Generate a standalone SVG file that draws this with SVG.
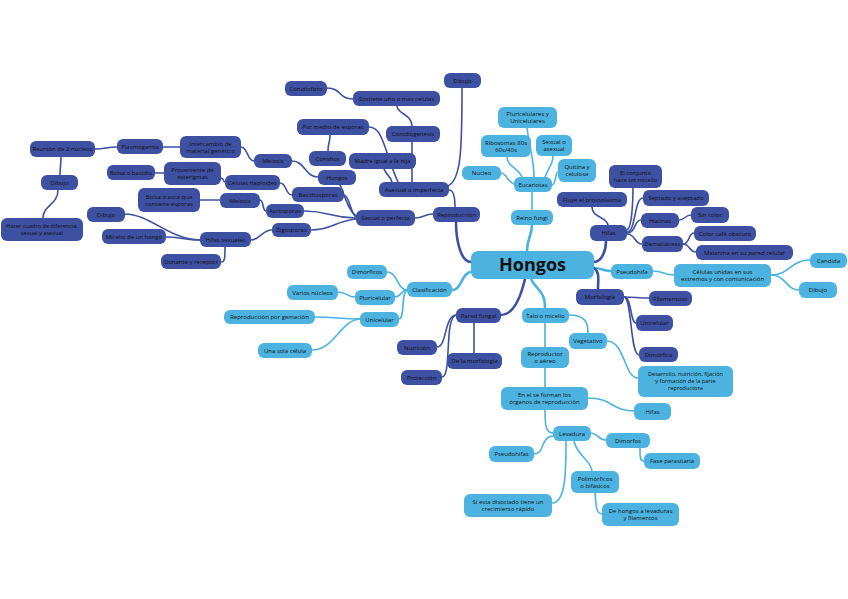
<svg xmlns="http://www.w3.org/2000/svg" width="848" height="599" viewBox="0 0 848 599">
<style>
.d rect{fill:#3d50a2}
.l rect{fill:#4cb3e0}
text{font-family:"Open Sans","Liberation Sans",sans-serif;font-size:6px;text-anchor:middle;fill:#111}
.s text{font-size:5.6px}
#connectors path{fill:none;stroke-linecap:round;stroke-width:1.6}
#connectors .cd{stroke:#3d50a2}
#connectors .cl{stroke:#4cb3e0}
#connectors .m{stroke-width:2.6}
</style>
<rect width="848" height="599" fill="#fff"/>
<g id="connectors">
<path class="cl m" d="M527 251 C527 238 532 236 532 225"/>
<path class="cl" d="M532 210 L532 192"/>
<path class="cl" d="M515 184 C508 184 507 173 501 173"/>
<path class="cl" d="M522 177 C518 168 507 166 507 157"/>
<path class="cl" d="M527 128 C530 150 534 160 534 177"/>
<path class="cl" d="M545 177 C548 168 553 165 553 156"/>
<path class="cl" d="M552 185 C556 185 555 172 558 172"/>
<path class="cl m" d="M471 272 C462 272 462 290 452 290"/>
<path class="cl" d="M407 290 C397 290 398 272 387 272"/>
<path class="cl" d="M407 290 C400 290 402 297 395 297"/>
<path class="cl" d="M407 290 C401 292 405 319 399 319"/>
<path class="cl" d="M355 297 C347 297 347 292 338 292"/>
<path class="cl" d="M360 319 C340 319 335 317 315 317"/>
<path class="cl" d="M360 319 C340 320 335 350 312 350"/>
<path class="cl m" d="M531 279 C536 290 545 290 545 308"/>
<path class="cl" d="M569 315 C585 315 588 322 588 333"/>
<path class="cl" d="M545 323 L545 347"/>
<path class="cl" d="M607 341 C625 341 624 378 638 378"/>
<path class="cl" d="M545 368 L545 387"/>
<path class="cl" d="M588 398 C612 398 612 411 634 411"/>
<path class="cl" d="M545 410 C545 426 546 433 553 433"/>
<path class="cl" d="M553 436 C540 437 545 454 534 454"/>
<path class="cl" d="M566 441 C566 470 566 503 552 503"/>
<path class="cl" d="M574 441 C578 458 590 458 592 471"/>
<path class="cl" d="M591 433 C598 433 598 440 606 440"/>
<path class="cl" d="M640 448 C640 458 640 461 644 461"/>
<path class="cl" d="M595 493 C596 505 596 514 602 514"/>
<path class="cl m" d="M594 268 C602 268 603 271 611 271"/>
<path class="cl" d="M653 271 C663 271 664 275 674 275"/>
<path class="cl" d="M771 275 C790 275 790 260 810 260"/>
<path class="cl" d="M771 275 C786 275 786 290 799 290"/>
<path class="cd m" d="M471 262 C460 262 456 238 456 222"/>
<path class="cd" d="M433 214 C424 214 424 218 415 218"/>
<path class="cd" d="M455 207 C455 197 453 190 449 190"/>
<path class="cd" d="M462 88 C462 150 461 180 448 186"/>
<path class="cd" d="M412 182 L412 142"/>
<path class="cd" d="M412 126 C412 114 397 114 397 106"/>
<path class="cd" d="M353 99 C338 99 342 88 327 88"/>
<path class="cd" d="M392 182 C390 175 386 175 384 169"/>
<path class="cd" d="M369 127 C383 127 384 150 398 182"/>
<path class="cd" d="M330 135 C330 143 328 143 328 151"/>
<path class="cd" d="M356 216 C348 210 345 196 340 185"/>
<path class="cd" d="M356 217 C350 213 350 196 344 195"/>
<path class="cd" d="M356 218 C330 218 330 211 304 211"/>
<path class="cd" d="M356 219 C335 221 332 230 311 230"/>
<path class="cd" d="M318 177 C305 177 305 161 292 161"/>
<path class="cd" d="M254 161 C247 161 248 147 241 147"/>
<path class="cd" d="M180 147 L163 147"/>
<path class="cd" d="M117 147 C106 147 106 149 95 149"/>
<path class="cd" d="M61 157 C61 165 60 168 60 175"/>
<path class="cd" d="M58 190 C58 205 43 205 43 218"/>
<path class="cd" d="M292 195 C285 195 287 183 280 183"/>
<path class="cd" d="M225 182 C223 182 224 178 221 178"/>
<path class="cd" d="M164 173 L155 173"/>
<path class="cd" d="M266 211 C262 211 264 200 260 200"/>
<path class="cd" d="M220 200 L200 200"/>
<path class="cd" d="M272 230 C262 230 260 240 251 240"/>
<path class="cd" d="M200 240 C170 240 150 214 125 214"/>
<path class="cd" d="M200 240 C185 240 180 237 166 237"/>
<path class="cd" d="M225 247 C225 258 225 262 221 262"/>
<path class="cd m" d="M525 279 C520 300 512 315 501 315"/>
<path class="cd" d="M456 315 C444 316 447 347 437 347"/>
<path class="cd" d="M456 315 C444 318 452 377 442 377"/>
<path class="cd" d="M474 323 L474 353"/>
<path class="cd m" d="M594 262 C602 262 606 250 606 241"/>
<path class="cd m" d="M594 268 C600 272 598 280 598 289"/>
<path class="cd" d="M592 207 C592 218 606 216 608 225"/>
<path class="cd" d="M627 230 C632 228 633 200 633 188"/>
<path class="cd" d="M627 232 C636 232 634 198 643 198"/>
<path class="cd" d="M627 233 C636 233 634 220 641 220"/>
<path class="cd" d="M627 234 C636 234 634 244 642 244"/>
<path class="cd" d="M679 220 C685 220 685 215 691 215"/>
<path class="cd" d="M683 244 C690 244 688 233 694 233"/>
<path class="cd" d="M683 244 C690 244 689 252 696 252"/>
<path class="cd" d="M624 297 C636 297 637 298 649 298"/>
<path class="cd" d="M624 297 C632 297 630 323 636 323"/>
<path class="cd" d="M624 297 C632 297 630 355 639 355"/>
</g>
<g id="n-hongos" class="l"><rect x="471" y="251" width="123" height="28" rx="7"/><text x="532.5" y="271" style="font-size:18px;font-weight:bold">Hongos</text></g>
<g id="n-reino" class="l"><rect x="511" y="210" width="42" height="15" rx="6"/><text x="532" y="219.7">Reino fungi</text></g>
<g id="n-eucariotas" class="l"><rect x="514" y="177" width="38" height="15" rx="6"/><text x="533" y="186.7">Eucariotas</text></g>
<g id="n-nucleo" class="l"><rect x="462" y="166" width="39" height="14" rx="6"/><text x="481.5" y="175.2">Nucleo</text></g>
<g id="n-ribosomas" class="l"><rect x="481" y="135" width="50" height="22" rx="6"/><text x="506" y="144.7">Ribosomas 80s</text><text x="506" y="151.7">60s/40s</text></g>
<g id="n-sexasex" class="l"><rect x="536" y="135" width="36" height="21" rx="6"/><text x="554" y="144.2">Sexual o</text><text x="554" y="151.2">asexual</text></g>
<g id="n-pluri" class="l"><rect x="498" y="107" width="59" height="21" rx="6"/><text x="527.5" y="116.2">Pluricelulares y</text><text x="527.5" y="123.2">Unicelulares</text></g>
<g id="n-quitina" class="l"><rect x="558" y="159" width="38" height="23" rx="6"/><text x="577" y="169.2">Quitina y</text><text x="577" y="176.2">celulosa</text></g>
<g id="n-dibujo-top" class="d"><rect x="444" y="73" width="37" height="15" rx="6"/><text x="462.5" y="82.7">Dibujo</text></g>
<g id="n-reproduccion" class="d"><rect x="433" y="207" width="47" height="15" rx="6"/><text x="456.5" y="216.7">Reproducción</text></g>
<g id="n-asexual" class="d"><rect x="379" y="182" width="70" height="15" rx="6"/><text x="414" y="191.7">Asexual o imperfecta</text></g>
<g id="n-sexual" class="d"><rect x="356" y="210" width="59" height="16" rx="6"/><text x="385.5" y="220.2">Sexual o perfecta</text></g>
<g id="n-conidiogenesis" class="d"><rect x="386" y="126" width="54" height="16" rx="6"/><text x="413" y="136.2">Conidiogenesis</text></g>
<g id="n-sostiene" class="d"><rect x="353" y="91" width="87" height="15" rx="6"/><text x="396.5" y="100.7">Sostiene uno o mas celulas</text></g>
<g id="n-conidioforo" class="d"><rect x="285" y="81" width="42" height="15" rx="6"/><text x="306" y="90.7">Conidioforo</text></g>
<g id="n-pormedio" class="d"><rect x="297" y="119" width="72" height="16" rx="6"/><text x="333" y="129.2">Por medio de esporas</text></g>
<g id="n-conidios" class="d"><rect x="309" y="151" width="37" height="15" rx="6"/><text x="327.5" y="160.7">Conidios</text></g>
<g id="n-madre" class="d"><rect x="349" y="153" width="67" height="16" rx="6"/><text x="382.5" y="163.2">Madre igual a la hija</text></g>
<g id="n-hongos2" class="d"><rect x="318" y="170" width="38" height="15" rx="6"/><text x="337" y="179.7">Hongos</text></g>
<g id="n-meiosis1" class="d"><rect x="254" y="154" width="38" height="14" rx="6"/><text x="273" y="163.2">Meiosis</text></g>
<g id="n-intercambio" class="d"><rect x="180" y="136" width="61" height="22" rx="6"/><text x="210.5" y="145.7">Intercambio de</text><text x="210.5" y="152.7">material genético</text></g>
<g id="n-plasmogamia" class="d"><rect x="117" y="139" width="46" height="15" rx="6"/><text x="140" y="148.7">Plasmogamia</text></g>
<g id="n-reunion" class="d"><rect x="30" y="141" width="65" height="16" rx="6"/><text x="62.5" y="151.2">Reunión de 2 núcleos</text></g>
<g id="n-dibujo-left" class="d"><rect x="41" y="175" width="37" height="15" rx="6"/><text x="59.5" y="184.7">Dibujo</text></g>
<g id="n-hacer" class="d s"><rect x="1" y="218" width="82" height="23" rx="6"/><text x="42" y="228.2">Hacer cuadro de diferencia,</text><text x="42" y="235.2">sexual y asexual</text></g>
<g id="n-basidio" class="d"><rect x="107" y="165" width="48" height="15" rx="6"/><text x="131" y="174.7">Bolsa o basidio</text></g>
<g id="n-proveniente" class="d"><rect x="164" y="162" width="57" height="23" rx="6"/><text x="192.5" y="172.2">Proveniente de</text><text x="192.5" y="179.2">esterigmas</text></g>
<g id="n-celulas-hap" class="d"><rect x="225" y="175" width="55" height="15" rx="6"/><text x="252.5" y="184.7">Células haploides</text></g>
<g id="n-basidiosporas" class="d"><rect x="292" y="187" width="52" height="15" rx="6"/><text x="318" y="196.7">Basidiosporas</text></g>
<g id="n-meiosis2" class="d"><rect x="220" y="193" width="40" height="15" rx="6"/><text x="240" y="202.7">Meiosis</text></g>
<g id="n-asca" class="d"><rect x="138" y="188" width="62" height="24" rx="6"/><text x="169" y="198.7">Bolsa o asca que</text><text x="169" y="205.7">contiene esporas</text></g>
<g id="n-ascosporas" class="d"><rect x="266" y="204" width="38" height="14" rx="6"/><text x="285" y="213.2">Ascosporas</text></g>
<g id="n-zigosporas" class="d"><rect x="272" y="223" width="39" height="14" rx="6"/><text x="291.5" y="232.2">Zigosporas</text></g>
<g id="n-hifas-sex" class="d"><rect x="200" y="232" width="51" height="15" rx="6"/><text x="225.5" y="241.7">Hifas sexuales</text></g>
<g id="n-dibujo-mid" class="d"><rect x="87" y="207" width="38" height="15" rx="6"/><text x="106" y="216.7">Dibujo</text></g>
<g id="n-micelio-hongo" class="d"><rect x="102" y="229" width="64" height="15" rx="6"/><text x="134" y="238.7">Micelio de un hongo</text></g>
<g id="n-donante" class="d"><rect x="161" y="254" width="60" height="15" rx="6"/><text x="191" y="263.7">Donante y receptor</text></g>
<g id="n-clasificacion" class="l"><rect x="407" y="282" width="45" height="15" rx="6"/><text x="429.5" y="291.7">Clasificación</text></g>
<g id="n-dimorficos" class="l"><rect x="347" y="265" width="40" height="14" rx="6"/><text x="367" y="274.2">Dimorficos</text></g>
<g id="n-pluricelular" class="l"><rect x="355" y="290" width="40" height="15" rx="6"/><text x="375" y="299.7">Pluricelular</text></g>
<g id="n-varios" class="l"><rect x="287" y="285" width="51" height="15" rx="6"/><text x="312.5" y="294.7">Varios núcleos</text></g>
<g id="n-unicelular-l" class="l"><rect x="360" y="312" width="39" height="15" rx="6"/><text x="379.5" y="321.7">Unicelular</text></g>
<g id="n-gemacion" class="l"><rect x="224" y="310" width="91" height="14" rx="6"/><text x="269.5" y="319.2">Reproducción por gemación</text></g>
<g id="n-unasola" class="l"><rect x="258" y="343" width="54" height="15" rx="6"/><text x="285" y="352.7">Una sola célula</text></g>
<g id="n-pared" class="d"><rect x="456" y="308" width="45" height="15" rx="6"/><text x="478.5" y="317.7">Pared fungal</text></g>
<g id="n-nutricion" class="d"><rect x="397" y="340" width="40" height="15" rx="6"/><text x="417" y="349.7">Nutrición</text></g>
<g id="n-delamorfo" class="d"><rect x="447" y="353" width="55" height="16" rx="6"/><text x="474.5" y="363.2">De la morfología</text></g>
<g id="n-proteccion" class="d"><rect x="401" y="370" width="41" height="15" rx="6"/><text x="421.5" y="379.7">Protección</text></g>
<g id="n-talo" class="l"><rect x="522" y="308" width="47" height="15" rx="6"/><text x="545.5" y="317.7">Talo o micelio</text></g>
<g id="n-vegetativo" class="l"><rect x="569" y="333" width="38" height="16" rx="6"/><text x="588" y="343.2">Vegetativo</text></g>
<g id="n-reproductor" class="l"><rect x="521" y="347" width="48" height="21" rx="6"/><text x="545" y="356.2">Reproductor</text><text x="545" y="363.2">o aéreo</text></g>
<g id="n-enelse" class="l"><rect x="501" y="387" width="87" height="23" rx="6"/><text x="544.5" y="397.2">En el se forman los</text><text x="544.5" y="404.2">órganos de reproducción</text></g>
<g id="n-hifas-l" class="l"><rect x="634" y="403" width="37" height="17" rx="6"/><text x="652.5" y="413.7">Hifas</text></g>
<g id="n-levadura" class="l"><rect x="553" y="426" width="38" height="15" rx="6"/><text x="572" y="435.7">Levadura</text></g>
<g id="n-dimorfos" class="l"><rect x="606" y="433" width="44" height="15" rx="6"/><text x="628" y="442.7">Dimorfos</text></g>
<g id="n-fase" class="l"><rect x="644" y="453" width="56" height="16" rx="6"/><text x="672" y="463.2">Fase parasitaria</text></g>
<g id="n-pseudohifas" class="l"><rect x="489" y="446" width="45" height="16" rx="6"/><text x="511.5" y="456.2">Pseudohifas</text></g>
<g id="n-polimorficos" class="l"><rect x="571" y="471" width="48" height="22" rx="6"/><text x="595" y="480.7">Polimórficos</text><text x="595" y="487.7">o bifásicos</text></g>
<g id="n-siesta" class="l"><rect x="464" y="494" width="88" height="23" rx="6"/><text x="508" y="504.2">Si esta disociado tiene un</text><text x="508" y="511.2">crecimiento rápido</text></g>
<g id="n-dehongos" class="l"><rect x="602" y="503" width="77" height="23" rx="6"/><text x="640.5" y="513.2">De hongos a levaduras</text><text x="640.5" y="520.2">y filamentos</text></g>
<g id="n-fluye" class="d"><rect x="557" y="192" width="70" height="15" rx="6"/><text x="592" y="201.7">Fluye el protoplasma</text></g>
<g id="n-conjunto" class="d"><rect x="609" y="165" width="53" height="23" rx="6"/><text x="635.5" y="175.2">El conjunto</text><text x="635.5" y="182.2">hace un micelio</text></g>
<g id="n-hifas-d" class="d"><rect x="590" y="225" width="37" height="16" rx="6"/><text x="608.5" y="235.2">Hifas</text></g>
<g id="n-septado" class="d"><rect x="643" y="190" width="66" height="16" rx="6"/><text x="676" y="200.2">Septado y aseptado</text></g>
<g id="n-hialinas" class="d"><rect x="641" y="213" width="38" height="15" rx="6"/><text x="660" y="222.7">Hialinas</text></g>
<g id="n-sincolor" class="d"><rect x="691" y="207" width="38" height="16" rx="6"/><text x="710" y="217.2">Sin color</text></g>
<g id="n-dematiaceas" class="d"><rect x="642" y="236" width="41" height="16" rx="6"/><text x="662.5" y="246.2">Dematiáceas</text></g>
<g id="n-cafe" class="d"><rect x="694" y="226" width="62" height="15" rx="6"/><text x="725" y="235.7">Color café obscuro</text></g>
<g id="n-melanina" class="d"><rect x="696" y="245" width="97" height="15" rx="6"/><text x="744.5" y="254.7">Melanina en su pared celular</text></g>
<g id="n-pseudohifa" class="l"><rect x="611" y="264" width="42" height="15" rx="6"/><text x="632" y="273.7">Pseudohifa</text></g>
<g id="n-celulas-unidas" class="l"><rect x="674" y="264" width="97" height="23" rx="6"/><text x="722.5" y="274.2">Células unidas en sus</text><text x="722.5" y="281.2">extremos y con comunicación</text></g>
<g id="n-candida" class="l"><rect x="810" y="253" width="37" height="15" rx="6"/><text x="828.5" y="262.7">Candida</text></g>
<g id="n-dibujo-right" class="l"><rect x="799" y="282" width="38" height="16" rx="6"/><text x="818" y="292.2">Dibujo</text></g>
<g id="n-morfologia" class="d"><rect x="576" y="289" width="48" height="16" rx="6"/><text x="600" y="299.2">Morfología</text></g>
<g id="n-filamentoso" class="d"><rect x="649" y="291" width="43" height="15" rx="6"/><text x="670.5" y="300.7">Filamentoso</text></g>
<g id="n-unicelular-d" class="d"><rect x="636" y="315" width="37" height="16" rx="6"/><text x="654.5" y="325.2">Unicelular</text></g>
<g id="n-dimorfico" class="d"><rect x="639" y="347" width="39" height="15" rx="6"/><text x="658.5" y="356.7">Dimórfico</text></g>
<g id="n-desarrollo" class="l s"><rect x="638" y="366" width="95" height="31" rx="6"/><text x="685.5" y="376.2">Desarrollo, nutrición, fijación</text><text x="685.5" y="383.2">y formación de la parte</text><text x="685.5" y="390.2">reproductora</text></g>
</svg>
